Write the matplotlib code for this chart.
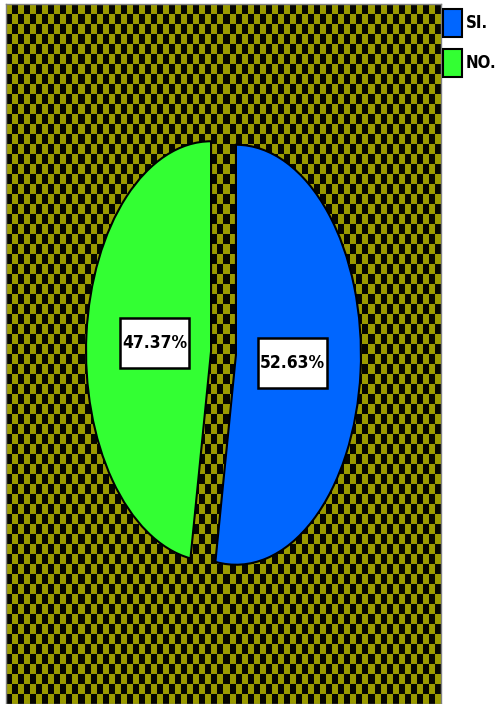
import numpy as np
import matplotlib
matplotlib.use("Agg")
import matplotlib.pyplot as plt
from matplotlib.patches import Rectangle


# ==========================================================
# Data
# ==========================================================
labels = ["SI.", "NO."]
counts = [10, 9]
colors = ["#0066FF", "#33FF33"]
explode = [0.1, 0.1]

font_list = ["DejaVu Sans"]


# ==========================================================
# Figure
# ==========================================================
fig = plt.figure(figsize=(5.01, 7.04), dpi=100)
fig.patch.set_facecolor("white")

# plot area in pixels (left, top, right, bottom)
px_l, px_t, px_r, px_b = 6, 4, 441, 704
W, H = 501, 704
ax = fig.add_axes([px_l / W, 1 - px_b / H, (px_r - px_l) / W, (px_b - px_t) / H])

# pie center and radii in pixels
cx, cy = 223.5, 353
rx, ry = 125, 210
xlim = ((px_l - cx) / rx, (px_r - cx) / rx)
ylim = ((cy - px_b) / ry, (cy - px_t) / ry)

# ------------------------------------------------------
# Checkered background
# ------------------------------------------------------
ncols, nrows = 72, 70
checker = np.indices((nrows, ncols)).sum(axis=0) % 2
olive_black = matplotlib.colors.ListedColormap(["#9A9A00", "#050500"])
ax.imshow(checker, cmap=olive_black, interpolation="nearest",
          extent=[xlim[0], xlim[1], ylim[0], ylim[1]], aspect="auto", zorder=0)

# ------------------------------------------------------
# Pie
# ------------------------------------------------------
wedges, texts, autotexts = ax.pie(
    counts, colors=colors, explode=explode, startangle=90, counterclock=False,
    autopct="%.2f%%", pctdistance=0.45,
    wedgeprops=dict(edgecolor="black", linewidth=1.5),
    textprops=dict(fontsize=12.5, fontweight="bold", family=font_list,
                   fontstretch="condensed", color="black"),
)

for wdg in wedges:
    wdg.set_zorder(2)

# white label boxes
box_w, box_h = 69 / rx, 50 / ry
for t in autotexts:
    x, y = t.get_position()
    ax.add_patch(Rectangle((x - box_w / 2, y - box_h / 2), box_w, box_h,
                           facecolor="white", edgecolor="black", linewidth=1.8, zorder=3))
    t.set_zorder(4)

ax.set_aspect("auto")
ax.set_xlim(xlim)
ax.set_ylim(ylim)
ax.set_frame_on(True)
for s in ax.spines.values():
    s.set_color("#808080")
    s.set_linewidth(1)
ax.set_xticks([])
ax.set_yticks([])

# ------------------------------------------------------
# Legend
# ------------------------------------------------------
fig.legend(wedges, labels, loc="upper left", bbox_to_anchor=(443 / W, 1 - 9 / H),
           frameon=False, borderpad=0, borderaxespad=0,
           handlelength=1.15, handleheight=2.2, handletextpad=0.2, labelspacing=0.72,
           prop=dict(size=12, weight="bold", family=font_list, stretch="condensed"))

plt.savefig("out.png", dpi=100)
plt.close()
